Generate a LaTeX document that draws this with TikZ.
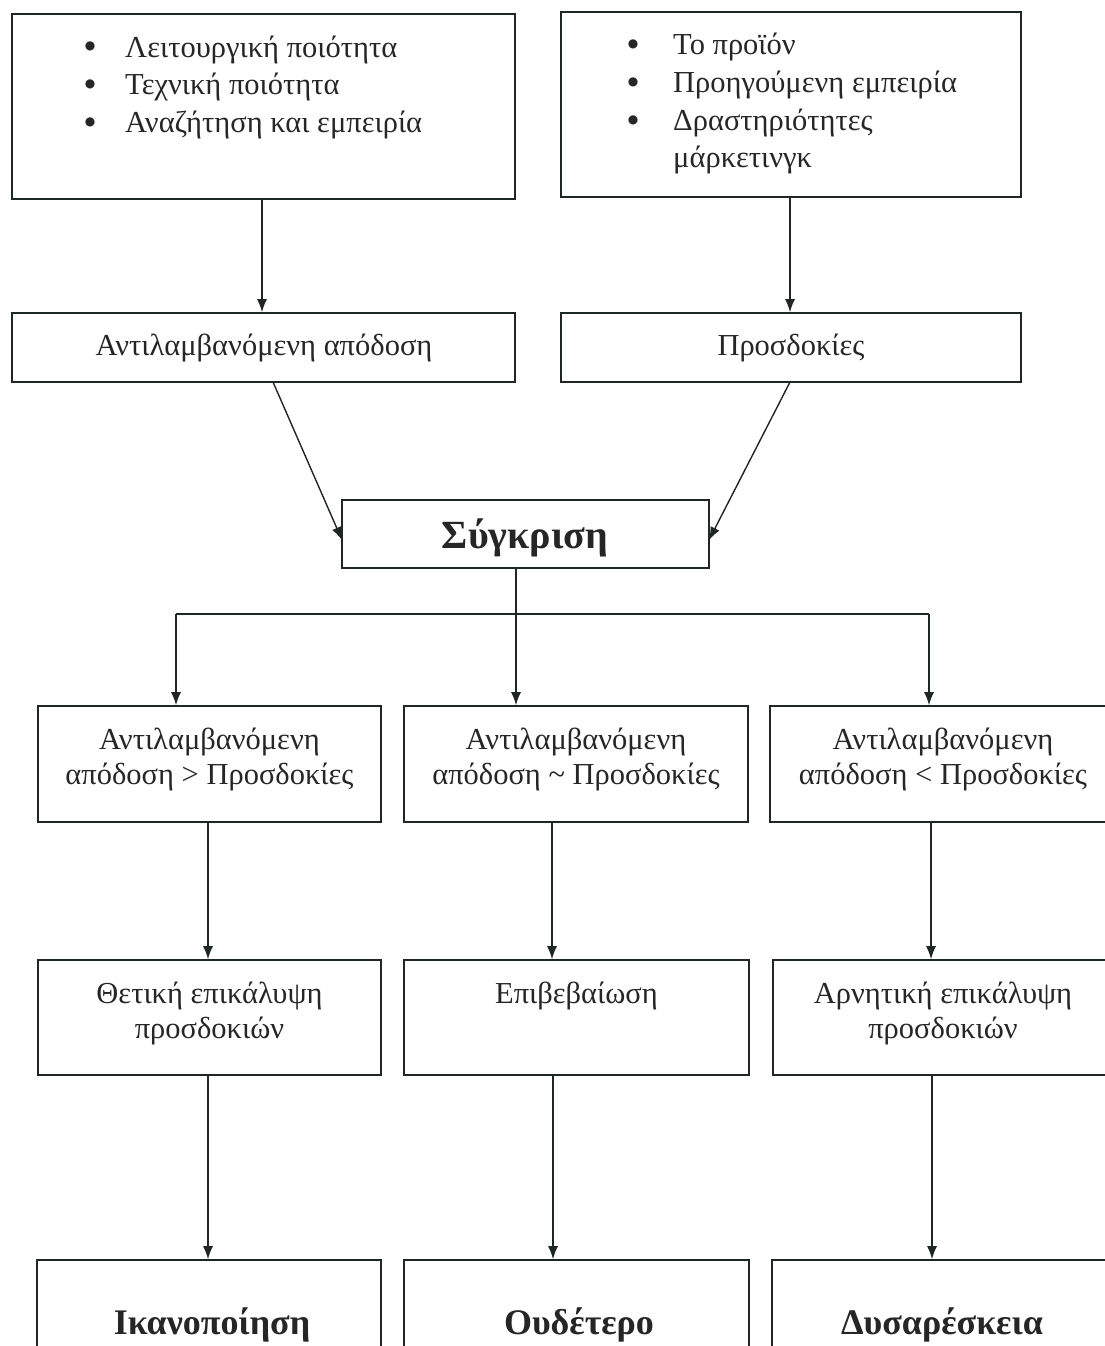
\documentclass[tikz,border=0pt]{standalone}
\usepackage{fontspec}
\setmainfont{Liberation Serif}
\newfontfamily\symfont{DejaVu Sans}
\usetikzlibrary{arrows.meta,calc}
\definecolor{ink}{RGB}{30,38,38}
\tikzset{
  box/.style={draw=ink, line width=1.6pt, inner sep=0pt},
  txt/.style={inner sep=0pt, font=\fontsize{30.5}{35}\selectfont, align=center, text=black!85},
  bul/.style={inner sep=0pt, font=\symfont\fontsize{12}{12}\selectfont, text=black!85},
  btxt/.style={inner sep=0pt, font=\fontsize{36}{40}\selectfont\bfseries, text=black!85},
  conn/.style={draw=ink, line width=1.4pt},
  arr/.style={conn, -{Latex[length=13pt,width=10pt]}}
}
\begin{document}
\begin{tikzpicture}[x=1pt,y=-1pt]
\useasboundingbox (0,0) rectangle (1105,1346);
\clip (0,0) rectangle (1105,1346);
% top boxes
\node[box, minimum width=503pt, minimum height=185pt] (A) at (263.5,106.5) {};
\node[box, minimum width=460pt, minimum height=185pt] (B) at (791,104.5) {};
\node[bul] (a1b) at (90,46) {●};
\node[bul] (a2b) at (90,84) {●};
\node[bul] (a3b) at (90,122) {●};
\node[txt, anchor=base west] (a1) at (125,57) {Λειτουργική ποιότητα};
\node[txt, anchor=base west] (a2) at (125,94.5) {Τεχνική ποιότητα};
\node[txt, anchor=base west] (a3) at (125,132) {Αναζήτηση και εμπειρία};
\node[bul] (b1b) at (633,44) {●};
\node[bul] (b2b) at (633,82) {●};
\node[bul] (b3b) at (633,120) {●};
\node[txt, anchor=base west] (b1) at (673,55) {Το προϊόν};
\node[txt, anchor=base west] (b2) at (673,92.5) {Προηγούμενη εμπειρία};
\node[txt, anchor=base west] (b3) at (673,130) {Δραστηριότητες};
\node[txt, anchor=base west] (b4) at (673,167) {μάρκετινγκ};
% second row
\node[box, minimum width=503pt, minimum height=69pt] (C) at (263.5,347.5) {};
\node[box, minimum width=460pt, minimum height=69pt] (D) at (791,347.5) {};
\node[txt, anchor=base] (ct) at (264,355) {Αντιλαμβανόμενη απόδοση};
\node[txt, anchor=base] (dt) at (791,355) {Προσδοκίες};
\draw[arr] (A.south -| 262,0) -- (C.north -| 262,0);
\draw[arr] (B.south -| 790,0) -- (C.north -| 790,0);
% comparison
\node[box, minimum width=367pt, minimum height=68pt] (S) at (525.5,534) {};
\node[btxt, font=\fontsize{40}{44}\selectfont\bfseries, anchor=base] (st) at (525,548) {Σύγκριση};
\coordinate (c1) at (273,382);
\coordinate (c2) at (342,540);
\coordinate (d1) at (790,382);
\coordinate (d2) at (709,540);
\draw[arr] (c1) -- (c2);
\draw[arr] (d1) -- (d2);
% branch
\coordinate (j) at (516,614);
\coordinate (jl) at (176,614);
\coordinate (jr) at (929,614);
\draw[conn] (j |- S.south) -- (j);
\draw[conn] (jl) -- (jr);
% third row
\node[box, minimum width=343pt, minimum height=116pt] (L1) at (209.5,764) {};
\node[box, minimum width=344pt, minimum height=116pt] (M1) at (576,764) {};
\node[box, minimum width=350pt, minimum height=116pt] (R1) at (945,764) {};
\draw[arr] (jl) -- (jl |- L1.north);
\draw[arr] (j) -- (j |- M1.north);
\draw[arr] (jr) -- (jr |- R1.north);
\node[txt, anchor=north] (l1t) at (209.5,728) {Αντιλαμβανόμενη\\απόδοση > Προσδοκίες};
\node[txt, anchor=north] (m1t) at (576,728) {Αντιλαμβανόμενη\\απόδοση {\char"7E} Προσδοκίες};
\node[txt, anchor=north] (r1t) at (943,728) {Αντιλαμβανόμενη\\απόδοση < Προσδοκίες};
% fourth row
\node[box, minimum width=343pt, minimum height=115pt] (L2) at (209.5,1017.5) {};
\node[box, minimum width=345pt, minimum height=115pt] (M2) at (576.5,1017.5) {};
\node[box, minimum width=345pt, minimum height=115pt] (R2) at (945.5,1017.5) {};
\node[txt, anchor=north] (l2t) at (209.5,982) {Θετική επικάλυψη\\προσδοκιών};
\node[txt, anchor=north] (m2t) at (576.5,982) {Επιβεβαίωση};
\node[txt, anchor=north] (r2t) at (943,982) {Αρνητική επικάλυψη\\προσδοκιών};
\draw[arr] (L1.south -| 208,0) -- (L2.north -| 208,0);
\draw[arr] (M1.south -| 552,0) -- (M2.north -| 552,0);
\draw[arr] (R1.south -| 931,0) -- (R2.north -| 931,0);
% bottom row
\node[box, minimum width=344pt, minimum height=140pt] (L3) at (209,1330) {};
\node[box, minimum width=345pt, minimum height=140pt] (M3) at (576.5,1330) {};
\node[box, minimum width=345pt, minimum height=140pt] (R3) at (944.5,1330) {};
\node[btxt, anchor=base] (l3t) at (212,1334) {Ικανοποίηση};
\node[btxt, anchor=base] (m3t) at (579,1334) {Ουδέτερο};
\node[btxt, anchor=base] (r3t) at (942,1334) {Δυσαρέσκεια};
\draw[arr] (L2.south -| 208,0) -- (L3.north -| 208,0);
\draw[arr] (M2.south -| 553,0) -- (M3.north -| 553,0);
\draw[arr] (R2.south -| 932,0) -- (R3.north -| 932,0);
\end{tikzpicture}
\end{document}
